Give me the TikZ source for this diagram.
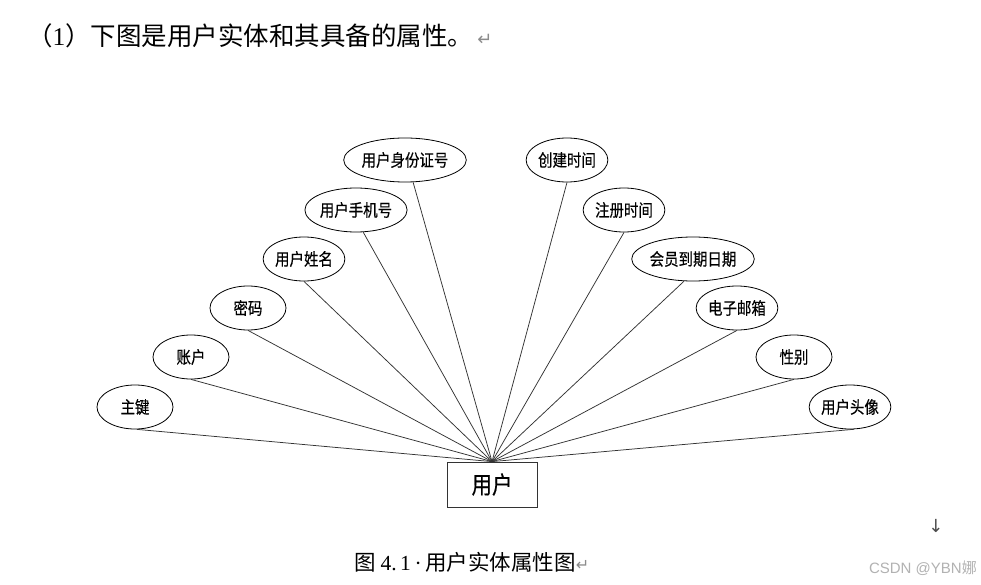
\documentclass[tikz,border=0pt]{standalone}
\usepackage{fontspec}
\setmainfont{Liberation Serif}
\newfontfamily\cjk{Noto Sans CJK SC}
\newfontfamily\cjkn[FakeStretch=0.85,FakeBold=0.4]{Noto Sans CJK SC}
\newfontfamily\dvs{DejaVu Sans}
\newfontfamily\wmfont{Liberation Sans}
\usetikzlibrary{shapes.geometric}
\tikzset{
  attr/.style={draw=black, line width=0.8pt, ellipse, inner sep=0pt, minimum height=44pt,
    minimum width=76pt, font=\cjkn\fontsize{17}{18}\selectfont},
  ent/.style={draw=black!80, line width=0.8pt, rectangle, minimum width=90pt, minimum height=45pt,
    font=\cjkn\fontsize{24}{26}\selectfont},
  link/.style={draw=black!80, line width=0.75pt},
}
\begin{document}
\begin{tikzpicture}[x=1pt,y=-1pt]
\useasboundingbox (0,0) rectangle (981,585);
\fill[white] (0,0) rectangle (981,585);
% title
\node[anchor=west, inner sep=0pt, font=\cjk\fontsize{25.5}{27}\selectfont] (title) at (27,36)
  {（{\rmfamily 1}）下图是用户实体和其具备的属性。\hspace{4pt}{\color{black!45}\dvs\fontsize{18}{18}\selectfont ↵}};
% entity
\node[ent] (user) at (492,484.5) {用户};
% attributes left
\node[attr] (a1) at (135,407) {主键};
\node[attr] (a2) at (191,357) {账户};
\node[attr] (a3) at (248,308) {密码};
\node[attr] (a4) at (304,259) {用户姓名};
\node[attr, minimum width=86pt] (a5) at (356,210) {用户手机号};
\node[attr, minimum width=100pt] (a6) at (405,160) {用户身份证号};
% attributes right
\node[attr] (b1) at (567,160) {创建时间};
\node[attr] (b2) at (624,210) {注册时间};
\node[attr, minimum width=100pt] (b3) at (693,259) {会员到期日期};
\node[attr] (b4) at (737,308) {电子邮箱};
\node[attr] (b5) at (794,357) {性别};
\node[attr] (b6) at (850,407) {用户头像};
% connectors
\draw[link] (a1.-85) -- (user.north);
\draw[link] (a2.south) -- (user.north);
\draw[link] (a3.south) -- (user.north);
\draw[link] (a4.south) -- (user.north);
\draw[link] (a5.-72) -- (user.north);
\draw[link] (a6.-70) -- (user.north);
\draw[link] (b1.south) -- (user.north);
\draw[link] (b2.south) -- (user.north);
\draw[link] (b3.-112) -- (user.north);
\draw[link] (b4.south) -- (user.north);
\draw[link] (b5.south) -- (user.north);
\draw[link] (b6.-80) -- (user.north);
% caption
\node[anchor=west, inner sep=0pt, font=\cjk\fontsize{21.5}{23}\selectfont] (cap) at (354,562)
  {图 {\rmfamily 4.\,1\,·\,}用户实体属性图{\color{black!45}\dvs\fontsize{16}{16}\selectfont ↵}};
\node[inner sep=0pt, font=\dvs\fontsize{18}{20}\selectfont, text=black!70] (arr) at (936,526) {↓};
\node[anchor=east, inner sep=0pt, font=\wmfont\fontsize{15}{17}\selectfont, text=black!30] (wm) at (977,568)
  {CSDN @YBN{\cjk 娜}};
\end{tikzpicture}
\end{document}
